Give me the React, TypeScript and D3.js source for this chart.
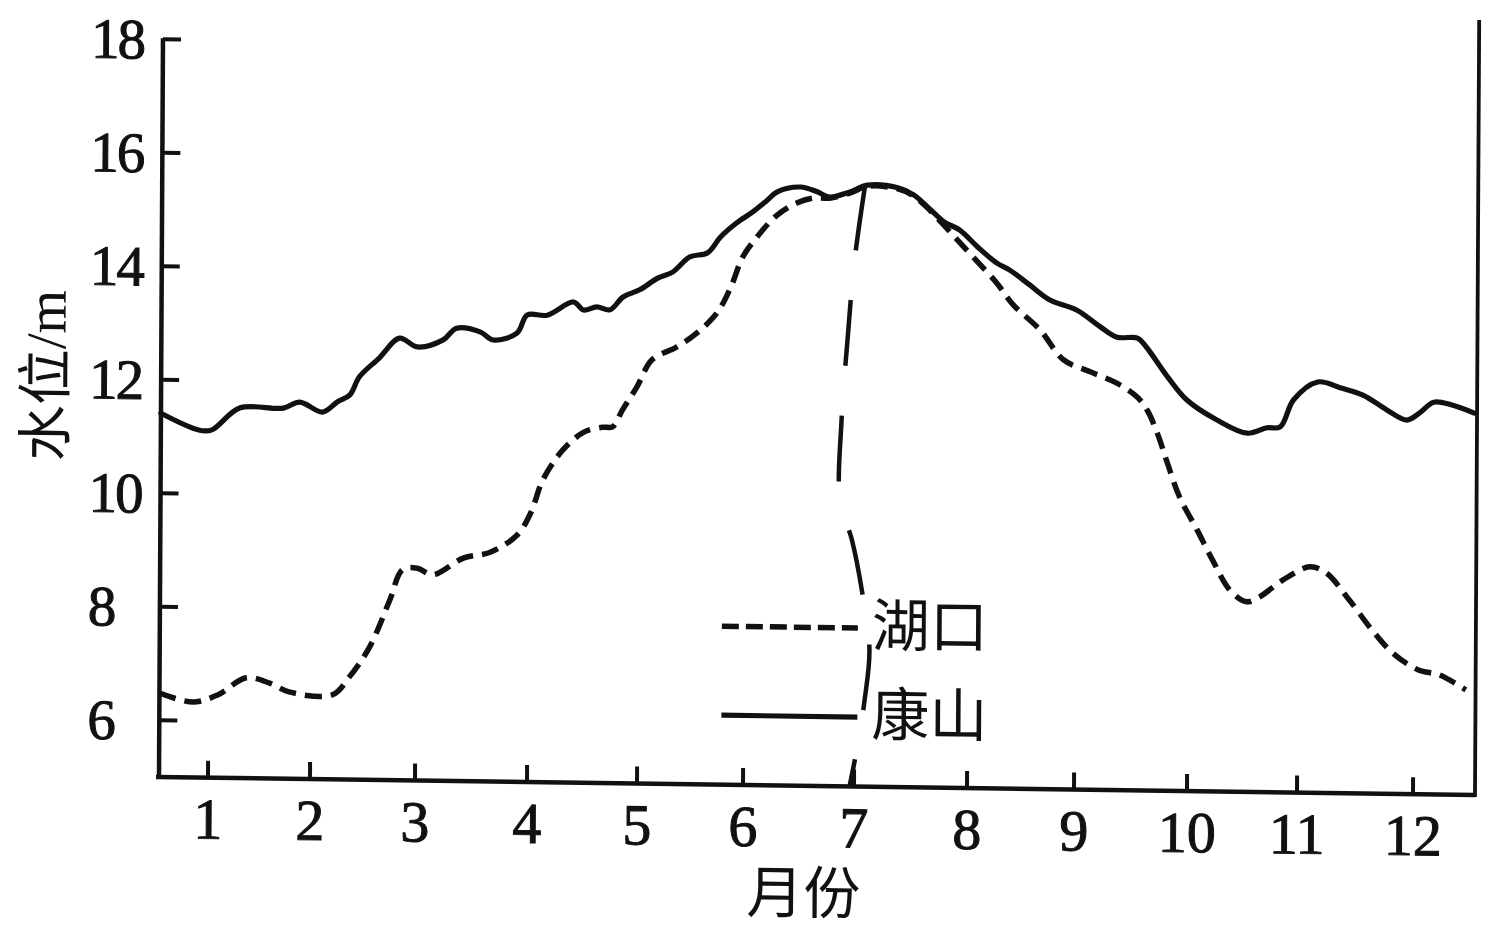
import React from "react";
import * as d3 from "d3";

// ---- data (month, water level in m) ----
const monthTicks = [1, 2, 3, 4, 5, 6, 7, 8, 9, 10, 11, 12];
const levelTicks = [6, 8, 10, 12, 14, 16, 18];
// the printed month axis is hand-drawn: tick spacing is not perfectly even
const monthDomain = [0.52, 1, 2, 3, 4, 5, 6, 7, 8, 9, 10, 11, 12, 12.534];
const monthRangePx = [0, 49, 151, 256, 368, 478, 584, 695, 808, 915, 1028, 1138, 1254, 1316];

const kangshanMonths = [
  0.52, 0.9, 1.02, 1.29, 1.72, 1.88, 2.1, 2.24, 2.36, 2.45, 2.64, 2.83, 3.0, 3.23, 3.35, 3.56, 3.68,
  3.89, 3.98, 4.16, 4.4, 4.49, 4.61, 4.73, 4.85, 5.0, 5.17, 5.31, 5.47, 5.64, 5.76, 5.91, 6.06, 6.19,
  6.28, 6.49, 6.64, 6.75, 6.94, 7.09, 7.36, 7.5, 7.65, 7.77, 7.91, 8.07, 8.25, 8.37, 8.56, 8.75, 9.0,
  9.21, 9.36, 9.54, 9.62, 9.81, 9.98, 10.25, 10.53, 10.71, 10.83, 10.95, 11.16, 11.36, 11.55, 11.76,
  11.93, 12.04, 12.16, 12.31, 12.51,
];
const kangshanLevels = [
  11.41, 11.12, 11.13, 11.52, 11.53, 11.64, 11.47, 11.65, 11.78, 12.1, 12.44, 12.79, 12.64, 12.77,
  12.98, 12.92, 12.78, 12.91, 13.23, 13.23, 13.47, 13.33, 13.39, 13.34, 13.57, 13.7, 13.91, 14.02,
  14.29, 14.37, 14.65, 14.9, 15.1, 15.31, 15.46, 15.55, 15.47, 15.38, 15.48, 15.6, 15.56, 15.44,
  15.18, 14.97, 14.83, 14.54, 14.26, 14.14, 13.88, 13.62, 13.45, 13.16, 12.98, 12.97, 12.81, 12.29,
  11.89, 11.55, 11.32, 11.42, 11.44, 11.92, 12.24, 12.14, 12.02, 11.76, 11.59, 11.72, 11.91, 11.87,
  11.73,
];

const hukouMonths = [
  0.52, 0.85, 1.09, 1.37, 1.6, 1.79, 2.21, 2.37, 2.56, 2.75, 2.87, 3.01, 3.15, 3.42, 3.66, 3.9, 4.02,
  4.13, 4.31, 4.5, 4.67, 4.76, 4.85, 4.98, 5.12, 5.35, 5.54, 5.73, 5.86, 5.97, 6.1, 6.28, 6.46, 6.61,
  6.75, 6.94, 7.09, 7.36, 7.5, 7.65, 7.83, 8.03, 8.25, 8.41, 8.66, 8.88, 9.13, 9.36, 9.54, 9.63, 9.72,
  9.81, 9.92, 10.08, 10.22, 10.38, 10.53, 10.65, 10.86, 11.1, 11.24, 11.44, 11.64, 11.82, 12.04, 12.22,
  12.45,
];
const hukouLevels = [
  6.48, 6.33, 6.46, 6.77, 6.68, 6.53, 6.49, 6.81, 7.34, 8.17, 8.71, 8.74, 8.63, 8.93, 9.04, 9.35, 9.74,
  10.33, 10.86, 11.18, 11.27, 11.28, 11.58, 11.99, 12.47, 12.7, 12.95, 13.31, 13.77, 14.3, 14.66,
  15.05, 15.27, 15.36, 15.36, 15.46, 15.58, 15.54, 15.42, 15.16, 14.78, 14.36, 13.91, 13.52, 13.09,
  12.57, 12.36, 12.17, 11.93, 11.7, 11.3, 10.78, 10.18, 9.6, 9.08, 8.55, 8.35, 8.44, 8.74, 8.98, 8.88,
  8.41, 7.88, 7.48, 7.19, 7.11, 6.85,
];

// hand-drawn long-dash marker line near July
const dividerMonths = [7.07, 6.98, 6.92, 6.87, 6.86, 6.97, 7.06, 7.13, 7.09, 7.03, 6.96];
const dividerLevels = [15.6, 14.28, 12.87, 11.45, 10.04, 9.34, 8.46, 7.41, 6.53, 5.73, 5.0];

const seriesNames = ["湖口", "康山"];
const yTitle = "水位/m";
const xTitle = "月份";

const FONT = "'Liberation Serif', 'Noto Sans CJK SC', serif";

export default function App() {
  const W = 1316;
  const H = 737.75;
  const x = d3.scaleLinear().domain(monthDomain).range(monthRangePx);
  const y = d3.scaleLinear().domain([5, 18]).range([0, -H]);

  const line = d3
    .line<[number, number]>()
    .x((d) => x(d[0]))
    .y((d) => y(d[1]))
    .curve(d3.curveCatmullRom.alpha(0.5));

  const kangshan = kangshanMonths.map((m, i) => [m, kangshanLevels[i]] as [number, number]);
  const hukou = hukouMonths.map((m, i) => [m, hukouLevels[i]] as [number, number]);
  const divider = dividerMonths.map((m, i) => [m, dividerLevels[i]] as [number, number]);

  const axisW = 4.5;
  const lineW = 5.2;

  return (
    <svg
      width={1496}
      height={928}
      viewBox="0 0 1496 928"
      style={{ position: "absolute", left: 0, top: 0, background: "#fff" }}
    >
      <rect x={0} y={0} width={1496} height={928} fill="#fff" />
      <g transform="matrix(1,0.01368,-0.0054,1,159,777)" fontFamily={FONT} fill="#111">
        {/* axes */}
        <line x1={-3} y1={0} x2={W} y2={0} stroke="#111" strokeWidth={axisW} />
        <line x1={0} y1={2} x2={0} y2={-H - 1} stroke="#111" strokeWidth={axisW} />
        <line x1={W} y1={2} x2={W} y2={-775} stroke="#111" strokeWidth={3.8} />

        {/* y ticks */}
        {levelTicks.map((t) => (
          <g key={"yt" + t}>
            <line x1={0} x2={18} y1={y(t)} y2={y(t)} stroke="#111" strokeWidth={4} />
            <text
              x={-72}
              y={y(t)}
              dominantBaseline="central"
              textAnchor="start"
              fontSize={57}
              letterSpacing={-2}
              stroke="#111"
              strokeWidth={1}
            >
              {t}
            </text>
          </g>
        ))}

        {/* x ticks */}
        {monthTicks.map((t) => (
          <g key={"xt" + t}>
            <line x1={x(t)} x2={x(t)} y1={0} y2={-17} stroke="#111" strokeWidth={4} />
            <text x={x(t)} y={61} textAnchor="middle" fontSize={58} stroke="#111" strokeWidth={1}>
              {t}
            </text>
          </g>
        ))}

        {/* titles */}
        <text
          transform="translate(-115,-400) rotate(-90)"
          textAnchor="middle"
          dominantBaseline="central"
          fontSize={56}
        >
          {yTitle}
        </text>
        <text x={645} y={108} textAnchor="middle" dominantBaseline="central" fontSize={57}>
          {xTitle}
        </text>

        {/* series */}
        <path
          d={line(hukou) || ""}
          fill="none"
          stroke="#111"
          strokeWidth={5.5}
          strokeDasharray="17 9"
          strokeLinejoin="round"
        />
        <path
          d={line(kangshan) || ""}
          fill="none"
          stroke="#111"
          strokeWidth={lineW}
          strokeLinejoin="round"
          strokeLinecap="round"
        />
        <path
          d={line(divider) || ""}
          fill="none"
          stroke="#111"
          strokeWidth={4.5}
          strokeDasharray="66 50"
        />

        {/* legend */}
        <line x1={562} x2={698} y1={-158.5} y2={-158.5} stroke="#111" strokeWidth={5.5} strokeDasharray="17 7" />
        <text x={712} y={-160} dominantBaseline="central" fontSize={58}>
          {seriesNames[0]}
        </text>
        <line x1={562} x2={698} y1={-69.5} y2={-69.5} stroke="#111" strokeWidth={lineW} />
        <text x={712} y={-71} dominantBaseline="central" fontSize={58}>
          {seriesNames[1]}
        </text>
      </g>
    </svg>
  );
}
